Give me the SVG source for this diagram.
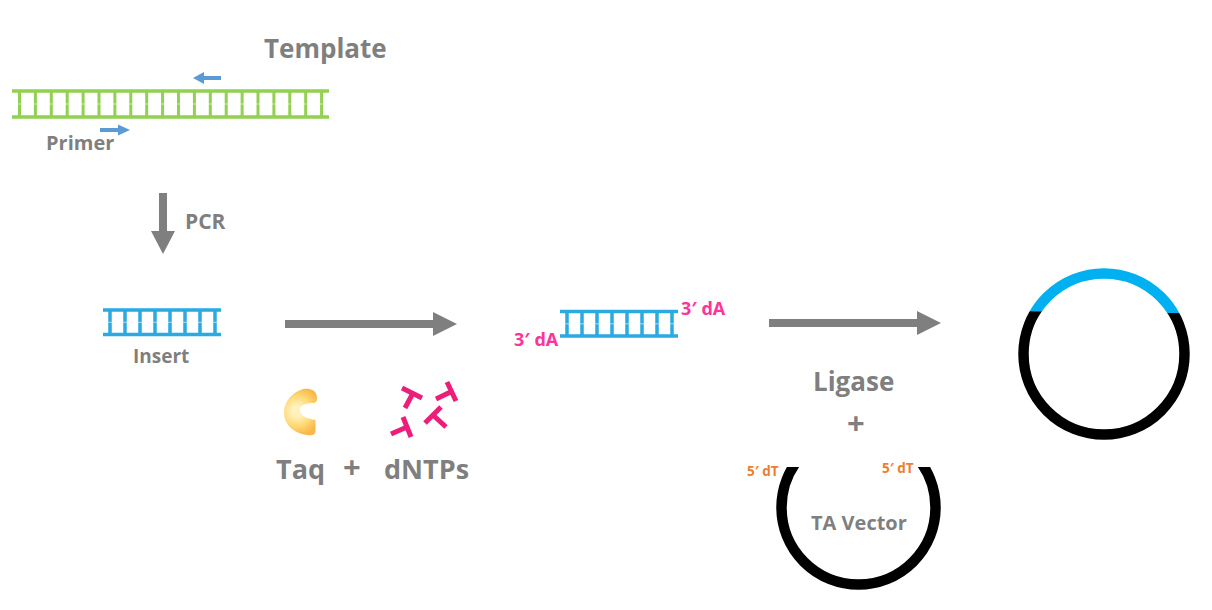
<svg xmlns="http://www.w3.org/2000/svg" width="1212" height="610" viewBox="0 0 1212 610">
<style>
text{font-family:"Open Sans","Noto Sans","Liberation Sans",sans-serif;font-weight:700;fill:#7f7f7f}
.pk{fill:#ff3399}.or{fill:#ed7d31}
.g{stroke:#92d050;fill:none}.b{stroke:#29abe2;fill:none}
.mid{stroke:#fff;stroke-opacity:.55;stroke-width:1;fill:none}
.t{stroke:#ed1e79;stroke-width:5;fill:none}
.pr{fill:#5b9bd5}.ar{fill:#7f7f7f}
</style>
<defs>
<radialGradient id="tq" gradientUnits="userSpaceOnUse" cx="297" cy="411" r="24"><stop offset="0.2" stop-color="#fff2c0"/><stop offset="0.6" stop-color="#ffdb78"/><stop offset="1" stop-color="#f9b84a"/></radialGradient>
<path id="lad8" d="M0 0H118M0 24.500H118M7 0V24.500M22 0V24.500M37 0V24.500M52 0V24.500M67 0V24.500M82 0V24.500M97 0V24.500M112 0V24.500"/>
<clipPath id="cTop"><polygon points="1000,260 1210,260 1210,313.500 1000,310.700"/></clipPath>
<clipPath id="cBot"><polygon points="1000,310.700 1210,313.500 1210,450 1000,450"/></clipPath>
<clipPath id="cVec"><rect x="760" y="467" width="200" height="130"/></clipPath>
</defs>
<g id="connectors">
<polygon class="ar" points="159,193 167,193 167,231 175,231 163,254 151,231 159,231"/>
<polygon class="ar" points="285,320 433,320 433,312 457,324 433,336 433,328 285,328"/>
<polygon class="ar" points="769,319 917,319 917,311 941,323 917,335 917,327 769,327"/>
</g>
<g id="template">
<path class="g" stroke-width="3.500" d="M12 91H329M12 117H329"/>
<path class="g" stroke-width="3" d="M19.500 91V117M35.400 91V117M51.300 91V117M67.200 91V117M83.100 91V117M99 91V117M114.900 91V117M130.800 91V117M146.700 91V117M162.600 91V117M178.500 91V117M194.400 91V117M210.300 91V117M226.200 91V117M242.100 91V117M258 91V117M273.900 91V117M289.800 91V117M305.700 91V117M321.600 91V117"/>
<path class="mid" d="M17 104H325"/>
<text x="264" y="58" font-size="26">Template</text>
</g>
<g id="primers">
<polygon class="pr" points="193,78 204,72 204,76 221,76 221,80 204,80 204,84"/>
<polygon class="pr" points="130,130 118,124.500 118,128 100,128 100,132 118,132 118,135.500"/>
<text x="46" y="150" font-size="20">Primer</text>
</g>
<g id="pcr"><text x="185" y="229" font-size="21">PCR</text></g>
<g id="insert">
<use href="#lad8" class="b" stroke-width="3.500" x="103" y="310"/>
<path class="mid" d="M107 322.300H218"/>
<text x="133" y="363" font-size="19">Insert</text>
</g>
<g id="taq">
<path fill="url(#tq)" d="M317 398C317 390 310 388 303 389C293 392 284 401 284 412C284 424 293 433 307 435C312 436 315.500 435 315.500 431V420C308 419 300 416 300 410C300 405 306 403 313 403C316 403 317 401 317 398Z"/>
<text x="276" y="479" font-size="27">Taq</text>
<text x="343" y="478" font-size="31">+</text>
</g>
<g id="dntps">
<path class="t" d="M402 388L422 398M413 393L405 408"/>
<path class="t" d="M447 382L456 401M451.500 391.500L436 399"/>
<path class="t" d="M441 407L425 423M433 415L446 427"/>
<path class="t" d="M403 417L411 437M407 427L391 434"/>
<text x="384" y="479" font-size="27">dNTPs</text>
</g>
<g id="adapted">
<use href="#lad8" class="b" stroke-width="3.500" x="560" y="311.500"/>
<path class="mid" d="M564 323.800H675"/>
<text class="pk" x="681" y="315" font-size="18">3′ dA</text>
<text class="pk" x="514" y="346" font-size="18">3′ dA</text>
</g>
<g id="ligase">
<text x="813" y="391" font-size="26">Ligase</text>
<text x="847" y="434" font-size="31">+</text>
</g>
<g id="vector">
<circle cx="858.500" cy="507.500" r="77" fill="none" stroke="#000" stroke-width="10.500" clip-path="url(#cVec)"/>
<text class="or" x="747" y="476" font-size="13.500">5′ dT</text>
<text class="or" x="882" y="473" font-size="13.500">5′ dT</text>
<text x="811" y="530" font-size="20">TA Vector</text>
</g>
<g id="recombinant">
<circle cx="1104" cy="354" r="80.500" fill="none" stroke="#00b0f0" stroke-width="10.500" clip-path="url(#cTop)"/>
<circle cx="1104" cy="354" r="80.500" fill="none" stroke="#000" stroke-width="10.500" clip-path="url(#cBot)"/>
</g>
</svg>
